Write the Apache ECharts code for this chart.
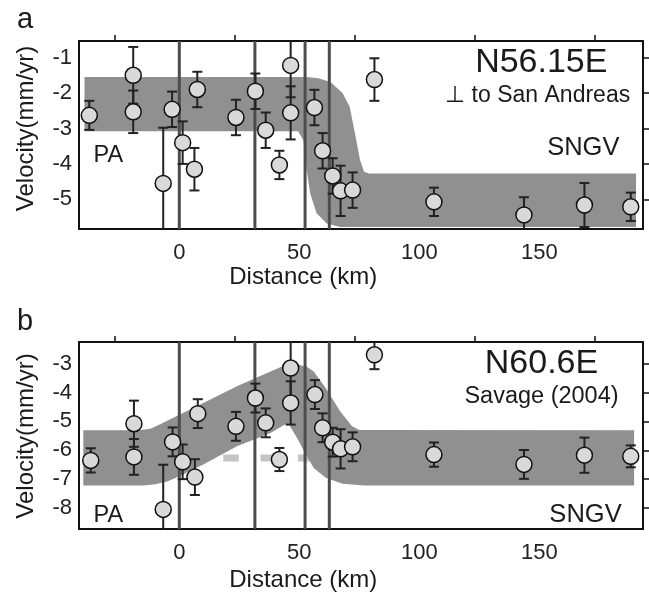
<!DOCTYPE html>
<html>
<head>
<meta charset="utf-8">
<script src="https://cdn.jsdelivr.net/npm/echarts@6/dist/echarts.min.js"></script>
<style>
  html, body { margin: 0; padding: 0; background: #fff; }
  #cc { width: 649px; height: 593px; }
</style>
</head>
<body>
<div id="cc"></div>
<script>
// panel a: N56.15E
var distA = [-37.5, -19.2, -19.2, -6.7, -3.0, 1.4, 6.3, 7.5, 23.6, 31.7, 36.0, 41.7, 46.4, 46.4, 56.3, 59.7, 63.9, 67.2, 72.2, 81.3, 106.1, 143.6, 168.8, 188.1];
var velA = [-2.63, -1.50, -2.53, -4.55, -2.46, -3.40, -4.15, -1.90, -2.69, -1.95, -3.05, -4.03, -1.22, -2.56, -2.41, -3.63, -4.34, -4.76, -4.74, -1.62, -5.07, -5.44, -5.16, -5.21];
var errA = [0.41, 0.8, 0.6, 1.57, 0.5, 0.6, 0.6, 0.5, 0.5, 0.5, 0.5, 0.4, 0.9, 0.75, 0.5, 0.5, 0.5, 0.71, 0.5, 0.6, 0.4, 0.5, 0.62, 0.4];
var bandUpperA = [[-39.5, -1.55], [53, -1.55], [58, -1.58], [63, -1.69], [68, -2.0], [71, -2.39], [73.2, -3.14], [75.3, -3.89], [77, -4.22], [79, -4.27], [190.3, -4.27]];
var bandLowerA = [[-39.5, -3.08], [49.5, -3.08], [51.7, -3.33], [53.1, -4.17], [54.5, -4.83], [57.2, -5.39], [61.4, -5.68], [67, -5.78], [190.3, -5.78]];

// panel b: N60.6E, Savage (2004)
var distB = [-36.9, -18.9, -18.9, -6.7, -2.8, 1.4, 6.5, 7.7, 23.6, 31.7, 36.0, 41.7, 46.4, 46.4, 56.5, 59.7, 63.9, 67.2, 72.2, 81.3, 106.1, 143.6, 168.8, 188.1];
var velB = [-6.35, -5.08, -6.23, -8.05, -5.71, -6.40, -6.93, -4.73, -5.17, -4.19, -5.05, -6.32, -3.15, -4.36, -4.07, -5.22, -5.72, -5.95, -5.88, -2.69, -6.15, -6.49, -6.17, -6.21];
var errB = [0.42, 0.8, 0.62, 1.55, 0.5, 0.6, 0.62, 0.5, 0.5, 0.5, 0.5, 0.4, 1.0, 0.75, 0.5, 0.5, 0.5, 0.68, 0.5, 0.5, 0.42, 0.5, 0.61, 0.38];
var bandUpperB = [[-40, -5.31], [-17, -5.31], [-12, -5.25], [-8, -5.1], [-4, -4.93], [10, -4.36], [24, -3.78], [38, -3.27], [43, -3.09], [49, -3.03], [53, -3.1], [56, -3.27], [61, -3.84], [67, -4.65], [72, -5.17], [75, -5.3], [189.5, -5.31]];
var bandLowerB = [[-40, -7.22], [-15, -7.22], [-10, -7.18], [-5, -7.08], [0, -6.9], [10, -6.49], [24, -5.86], [38, -5.40], [44, -5.11], [45.5, -5.08], [49, -5.57], [52, -6.03], [56, -6.61], [61, -6.95], [68, -7.16], [77, -7.22], [189.5, -7.22]];
var dashB = [[-28.3, -6.27], [189.5, -6.27]];

// fault traces and axis ticks
var faultKm = [0, 31.5, 52.4, 62.5];
var distTicks = [0, 50, 100, 150];
var topTicks = [-26.8, 23.2, 73.2, 123.2, 173.2];
var velTicksA = [-5, -4, -3, -2, -1];
var velTicksB = [-8, -7, -6, -5, -4, -3];

var xRange = [-41.79, 193.2];
var yRangeA = [-5.837, -0.532];
var yRangeB = [-8.728, -2.248];

var FONT = 'Liberation Sans, Arial, Helvetica, sans-serif';

var chart = echarts.init(document.getElementById('cc'));

function bottomX(g) {
    return {
        type: 'value', gridIndex: g, position: 'bottom', min: xRange[0], max: xRange[1],
        axisLine: { show: true, onZero: false, lineStyle: { color: '#111', width: 2 } },
        axisTick: { show: false },
        axisLabel: { customValues: distTicks, fontSize: 22, fontFamily: FONT, color: '#222', margin: 13 },
        splitLine: { show: false }
    };
}
function topX(g) {
    return {
        type: 'value', gridIndex: g, position: 'top', min: xRange[0], max: xRange[1],
        axisLine: { show: true, onZero: false, lineStyle: { color: '#111', width: 2 } },
        axisTick: { show: true, customValues: topTicks, length: 6, lineStyle: { color: '#111', width: 1.5 } },
        axisLabel: { show: false },
        splitLine: { show: false }
    };
}
function leftY(g, r, ticks) {
    return {
        type: 'value', gridIndex: g, position: 'left', min: r[0], max: r[1],
        axisLine: { show: true, onZero: false, lineStyle: { color: '#111', width: 2 } },
        axisTick: { show: false },
        axisLabel: { customValues: ticks, fontSize: 22, fontFamily: FONT, color: '#222', margin: 7 },
        splitLine: { show: false }
    };
}
function rightY(g, r, ticks) {
    return {
        type: 'value', gridIndex: g, position: 'right', min: r[0], max: r[1],
        axisLine: { show: true, onZero: false, lineStyle: { color: '#111', width: 2 } },
        axisTick: { show: true, customValues: ticks, length: 6, lineStyle: { color: '#111', width: 1.5 } },
        axisLabel: { show: false },
        splitLine: { show: false }
    };
}

function bandSeries(ax, upper, lower) {
    return {
        type: 'custom', xAxisIndex: ax, yAxisIndex: ax, z: 2, silent: true,
        data: [0],
        renderItem: function (params, api) {
            var pts = [];
            upper.forEach(function (p) { pts.push(api.coord(p)); });
            lower.slice().reverse().forEach(function (p) { pts.push(api.coord(p)); });
            return { type: 'polygon', shape: { points: pts }, style: { fill: '#909090' } };
        }
    };
}

function faultSeries(ax, r) {
    return {
        type: 'custom', xAxisIndex: ax, yAxisIndex: ax, z: 3, silent: true,
        data: faultKm,
        renderItem: function (params, api) {
            var x = api.value(0);
            var a = api.coord([x, r[0]]), b = api.coord([x, r[1]]);
            return { type: 'line', shape: { x1: a[0], y1: a[1], x2: b[0], y2: b[1] },
                     style: { stroke: '#4d4d4d', lineWidth: 3 } };
        }
    };
}

function errSeries(ax, dist, vel, err, r) {
    var d = dist.map(function (x, i) { return [x, vel[i], err[i]]; });
    return {
        type: 'custom', xAxisIndex: ax, yAxisIndex: ax, z: 4, silent: true,
        data: d,
        renderItem: function (params, api) {
            var x = api.value(0), y = api.value(1), e = api.value(2);
            var hi = y + e, lo = y - e;
            var kids = [];
            var st = { stroke: '#222', lineWidth: 2 };
            var a = api.coord([x, Math.min(hi, r[1])]), b = api.coord([x, Math.max(lo, r[0])]);
            kids.push({ type: 'line', shape: { x1: a[0], y1: a[1], x2: b[0], y2: b[1] }, style: st });
            if (hi <= r[1]) {
                kids.push({ type: 'line', shape: { x1: a[0] - 5, y1: a[1], x2: a[0] + 5, y2: a[1] }, style: st });
            }
            if (lo >= r[0]) {
                kids.push({ type: 'line', shape: { x1: b[0] - 5, y1: b[1], x2: b[0] + 5, y2: b[1] }, style: st });
            }
            return { type: 'group', children: kids };
        }
    };
}

function pointSeries(ax, dist, vel) {
    return {
        type: 'scatter', xAxisIndex: ax, yAxisIndex: ax, z: 5,
        symbolSize: 16,
        itemStyle: { color: '#d9d9d9', borderColor: '#111', borderWidth: 1.5, opacity: 1 },
        data: dist.map(function (x, i) { return [x, vel[i]]; })
    };
}

function txt(t, x, y, size, align, rot) {
    return {
        type: 'text', x: x, y: y, rotation: rot || 0, silent: true,
        style: { text: t, fontSize: size, fontFamily: FONT, fill: '#1a1a1a',
                 align: align || 'center', verticalAlign: 'middle' }
    };
}

var option = {
    animation: false,
    backgroundColor: '#fff',
    grid: [
        { left: 79, top: 41, width: 564, height: 188 },
        { left: 79, top: 342, width: 564, height: 187 }
    ],
    // 0,1: bottom axes, 2,3: top axes
    xAxis: [bottomX(0), bottomX(1), topX(0), topX(1)],
    yAxis: [leftY(0, yRangeA, velTicksA), leftY(1, yRangeB, velTicksB),
            rightY(0, yRangeA, velTicksA), rightY(1, yRangeB, velTicksB)],
    series: [
        {
            type: 'line', xAxisIndex: 1, yAxisIndex: 1, z: 1, silent: true,
            symbol: 'none', data: dashB,
            lineStyle: { color: '#c4c4c4', width: 7, type: [15.5, 21.8], cap: 'butt' }
        },
        bandSeries(0, bandUpperA, bandLowerA),
        bandSeries(1, bandUpperB, bandLowerB),
        faultSeries(0, yRangeA),
        faultSeries(1, yRangeB),
        errSeries(0, distA, velA, errA, yRangeA),
        errSeries(1, distB, velB, errB, yRangeB),
        pointSeries(0, distA, velA),
        pointSeries(1, distB, velB)
    ],
    graphic: [
        txt('a', 25, 20, 29),
        txt('b', 25, 321.5, 29),
        txt('Velocity(mm/yr)', 26, 128.5, 24, 'center', Math.PI / 2),
        txt('Velocity(mm/yr)', 26, 436, 24, 'center', Math.PI / 2),
        txt('Distance (km)', 303.3, 277.5, 24),
        txt('Distance (km)', 303.3, 580, 24),
        txt('N56.15E', 541.3, 62.5, 34),
        txt('\u22A5 to San Andreas', 537.7, 95.7, 23),
        txt('SNGV', 583.3, 148.3, 25.5),
        txt('PA', 108.3, 155.8, 23.5),
        txt('N60.6E', 541.5, 363.8, 34),
        txt('Savage (2004)', 541.5, 396.3, 23.5),
        txt('SNGV', 585.5, 515, 25.5),
        txt('PA', 108.3, 515.3, 23.5)
    ]
};

chart.setOption(option);
</script>
</body>
</html>
